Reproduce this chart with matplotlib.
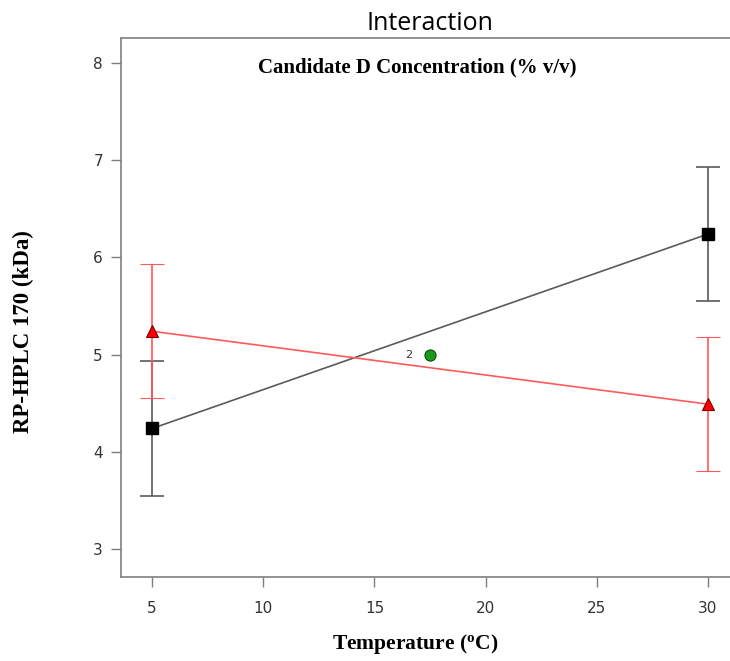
import matplotlib.pyplot as plt

# factor levels (Temperature, degC)
temps = [5, 30]

# low level of Candidate D concentration (black squares)
low_mean = [4.24, 6.24]
low_err = [0.69, 0.69]

# high level of Candidate D concentration (red triangles)
high_mean = [5.24, 4.49]
high_err = [0.69, 0.69]

# centre point
center_x = [17.5]
center_y = [5.0]
center_label = "2"

xticks = [5, 10, 15, 20, 25, 30]
yticks = [3, 4, 5, 6, 7, 8]

fig = plt.figure(figsize=(7.3, 6.61), dpi=100)
ax = fig.add_axes([0.1658, 0.1271, 0.8466, 0.8154])

ax.errorbar(temps, low_mean, yerr=low_err, color="#5a5a5a", lw=1.2,
            capsize=8.5, capthick=1.2, marker="s", ms=8, mfc="black",
            mec="black", zorder=3)
ax.errorbar(temps, high_mean, yerr=high_err, color="#ff5a5a", lw=1.2,
            capsize=8.5, capthick=1.2, marker="^", ms=9, mfc="red",
            mec="#7a0000", mew=0.8, zorder=3)

ax.plot(center_x, center_y, "o", ms=8, mfc="#1a9a1a", mec="#0a4a0a",
        mew=0.8, zorder=4)
ax.annotate(center_label, (center_x[0], center_y[0]), xytext=(-13, 0),
            textcoords="offset points", ha="right", va="center",
            fontsize=8, color="#333333")

ax.set_xlim(3.6, 31.4)
ax.set_ylim(2.712, 8.257)
ax.set_xticks(xticks)
ax.set_yticks(yticks)

for side in ["left", "bottom", "top", "right"]:
    ax.spines[side].set_color("#7f7f7f")
    ax.spines[side].set_linewidth(1.2)
ax.tick_params(direction="out", length=7, width=1, color="#7f7f7f",
               labelsize=11, labelcolor="#333333", pad=6)
ax.tick_params(axis="x", pad=10)

ax.set_title("Interaction", fontsize=18, pad=6, family="Open Sans")
ax.text(0.479, 0.946, "Candidate D Concentration (% v/v)", transform=ax.transAxes,
        ha="center", va="center", fontsize=15, fontweight="bold",
        family="Liberation Serif")
ax.set_xlabel("Temperature ($\\mathregular{^{o}}$C)", fontsize=15.5,
              fontweight="bold", family="Liberation Serif")
ax.xaxis.set_label_coords(0.476, -0.102)
ax.set_ylabel("RP-HPLC 170 (kDa)", fontsize=16.5, fontweight="bold",
              family="Liberation Serif")
ax.yaxis.set_label_coords(-0.140, 0.456)

fig.savefig("out.png", dpi=100)
